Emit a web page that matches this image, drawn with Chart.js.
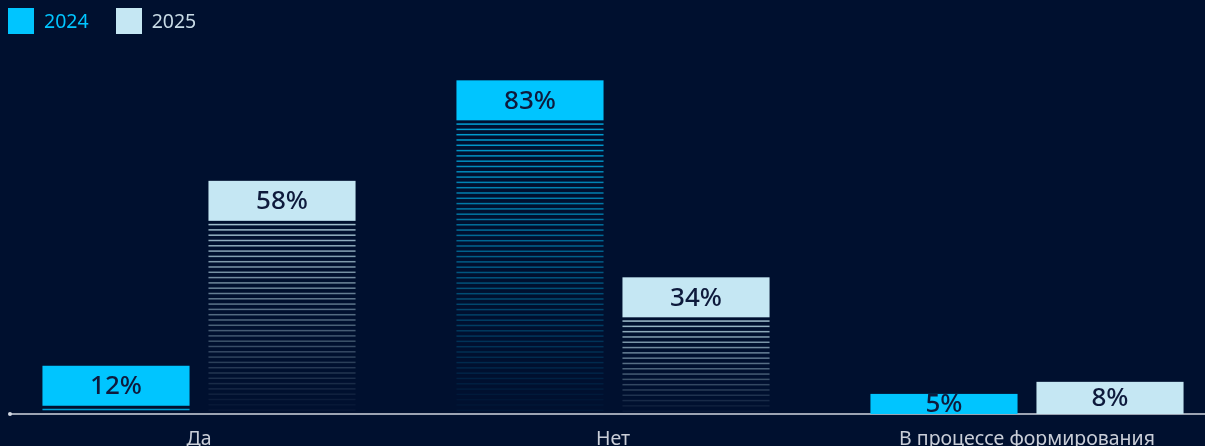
<!DOCTYPE html>
<html>
<head>
<meta charset="utf-8">
<script src="https://cdn.jsdelivr.net/npm/chart.js@4"></script>
<style>
html, body { margin: 0; padding: 0; background: #00102f; overflow: hidden; }
#wrap { position: relative; width: 1205px; height: 446px; overflow: hidden; }
#chart { position: absolute; left: -8px; top: 0; }
#legend { position: absolute; left: 8px; top: 7px; display: flex; align-items: center; font: 19.5px "Noto Sans", sans-serif; }
#legend .box { width: 26px; height: 26px; margin-right: 10px; }
#legend .item { display: flex; align-items: center; margin-right: 27px; }
</style>
</head>
<body>
<div id="wrap">
  <canvas id="chart" width="1242" height="446"></canvas>
  <div id="legend"></div>
</div>
<script>
const bg_color = "#00102f";
const cyan = "#00c5ff";      // 2024
const light = "#c5e7f3";     // 2025
const label_color = "#0e1a3c";
const axis_color = "#d0d6e0";

const categories = ["Да", "Нет", "В процессе формирования"];
const series_names = ["2024", "2025"];
const values_2024 = [12, 83, 5];
const values_2025 = [58, 34, 8];

const bar_colors = [cyan, light];
const legend_text_colors = [cyan, "#c8dbe6"];
const block_height = 40;
const axis_start = 18;  // canvas is shifted 8px left, so this is x=10 on the page

//legend (html, real text)
const legend = document.getElementById('legend');
series_names.forEach((name, i) => {
    const item = document.createElement('div');
    item.className = 'item';
    item.innerHTML = `<span class="box" style="background:${bar_colors[i]}"></span><span style="color:${legend_text_colors[i]}">${name}</span>`;
    legend.appendChild(item);
});

// axis line with the small dot on the left
const axis_line = {
    id: 'axisLine',
    beforeDatasetsDraw(chart) {
        const ctx = chart.ctx;
        const y = chart.chartArea.bottom;
        ctx.save();
        ctx.strokeStyle = axis_color;
        ctx.lineWidth = 1.5;
        ctx.beginPath();
        ctx.moveTo(axis_start, y);
        ctx.lineTo(chart.width, y);
        ctx.stroke();
        ctx.fillStyle = axis_color;
        ctx.beginPath();
        ctx.arc(axis_start, y, 2, 0, Math.PI * 2);
        ctx.fill();
        ctx.restore();
    }
};

// solid head block + fading stripes + value label
const bar_blocks = {
    id: 'barBlocks',
    afterDatasetsDraw(chart) {
        const ctx = chart.ctx;
        ctx.save();
        chart.data.datasets.forEach((ds, i) => {
            const meta = chart.getDatasetMeta(i);
            meta.data.forEach((bar, j) => {
                const left = bar.x - bar.width / 2;
                const top = bar.y;
                const bottom = bar.base;
                const block = Math.min(block_height, bottom - top);
                const stripe_top = top + block + 3;
                const span = bottom - stripe_top;
                ctx.fillStyle = bar_colors[i];
                for (let y = stripe_top; y < bottom - 2; y += 5.3) {
                    const t = (y - stripe_top) / span;
                    ctx.globalAlpha = Math.max(0.04, 0.8 * (1 - t));
                    ctx.fillRect(left, y, bar.width, 1.5);
                }
                ctx.globalAlpha = 1;
                ctx.fillRect(left, top, bar.width, block);
                ctx.fillStyle = label_color;
                ctx.font = '500 26px "Noto Sans"';
                ctx.textAlign = 'center';
                ctx.textBaseline = 'middle';
                ctx.fillText(ds.data[j] + '%', bar.x, top + block / 2 + 1);
            });
        });
        ctx.restore();
    }
};

new Chart(document.getElementById('chart'), {
    type: 'bar',
    data: {
        labels: categories,
        datasets: [{
            label: series_names[0],
            data: values_2024,
            backgroundColor: 'rgba(0,0,0,0)',
        },{
            label: series_names[1],
            data: values_2025,
            backgroundColor: 'rgba(0,0,0,0)',
        }]
    },
    options: {
        responsive: false,
        animation: false,
        categoryPercentage: 0.802,
        barPercentage: 0.886,
        layout: {
            padding: { top: 12, bottom: 0, left: 0, right: 0 }
        },
        plugins: {
            legend: { display: false },
            tooltip: { enabled: false }
        },
        scales: {
            y: {
                display: false,
                min: 0,
                max: 100
            },
            x: {
                grid: { display: false },
                border: { display: false },
                ticks: {
                    color: '#c9ced8',
                    padding: 6,
                    font: { family: '"Noto Sans"', size: 19.5 }
                },
                afterFit(scale) {
                    scale.height = 32;
                }
            }
        }
    },
    plugins: [axis_line, bar_blocks]
});
</script>
</body>
</html>
